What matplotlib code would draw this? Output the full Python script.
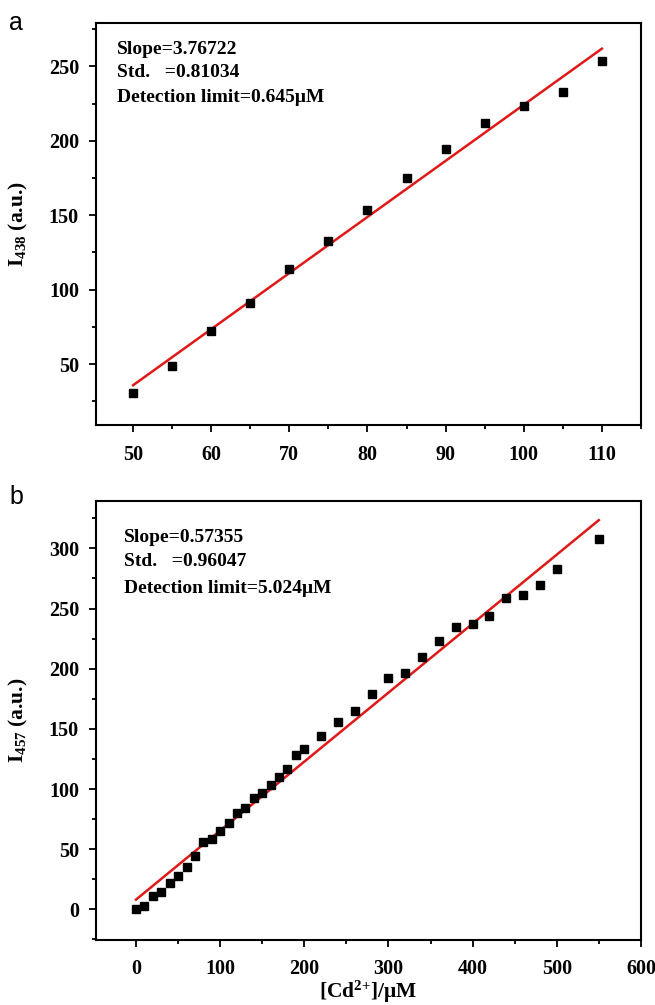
import matplotlib
matplotlib.use("Agg")
import matplotlib.pyplot as plt
from matplotlib.ticker import MultipleLocator
import numpy as np

plt.rcParams["font.family"] = ["Liberation Serif", "DejaVu Serif"]
plt.rcParams["font.weight"] = "bold"
plt.rcParams["mathtext.fontset"] = "custom"
plt.rcParams["mathtext.rm"] = "Liberation Serif:bold"
plt.rcParams["mathtext.bf"] = "Liberation Serif:bold"
plt.rcParams["mathtext.it"] = "Liberation Serif:bold:italic"

# panel a: emission at 438 nm, 50-110 uM Cd2+
conc_a = [50, 55, 60, 65, 70, 75, 80, 85, 90, 95, 100, 105, 110]
int_a = [30.7, 48.9, 72.4, 91.2, 114.1, 132.6, 153.2, 175.0, 194.7, 211.9,
         223.3, 232.8, 253.8]
slope_a = 3.76722
notes_a = ["Slope=3.76722", "Std.   =0.81034", "Detection limit=0.645\u03bcM"]

# panel b: emission at 457 nm, 0-550 uM Cd2+
conc_b = [0, 10, 20, 30, 40, 50, 60, 70, 80, 90, 100, 110, 120, 130, 140,
          150, 160, 170, 180, 190, 200, 220, 240, 260, 280, 300, 320, 340,
          360, 380, 400, 420, 440, 460, 480, 500, 550]
int_b = [0.0, 2.8, 11.1, 14.7, 21.6, 27.7, 35.5, 44.3, 56.2, 58.7, 65.1,
         72.0, 79.8, 83.9, 92.2, 97.0, 103.3, 110.2, 116.9, 128.3, 133.5,
         144.0, 155.4, 165.1, 178.9, 192.2, 196.1, 209.4, 223.3, 234.6,
         237.1, 243.8, 259.0, 261.5, 269.3, 283.1, 308.0]
slope_b = 0.57355
notes_b = ["Slope=0.57355", "Std.   =0.96047", "Detection limit=5.024\u03bcM"]


def fit_line(x, y, slope):
    x = np.asarray(x, float)
    y = np.asarray(y, float)
    icpt = y.mean() - slope * x.mean()
    xs = np.array([x.min(), x.max()])
    return xs, slope * xs + icpt


def style_axes(ax, xmajor, xminor, ymajor, yminor):
    for s in ax.spines.values():
        s.set_linewidth(1.5)
    ax.xaxis.set_major_locator(MultipleLocator(xmajor))
    ax.xaxis.set_minor_locator(MultipleLocator(xminor))
    ax.yaxis.set_major_locator(MultipleLocator(ymajor))
    ax.yaxis.set_minor_locator(MultipleLocator(yminor))
    ax.tick_params(which="both", direction="out", top=False, right=False,
                   width=1.3, labelsize=14.5)
    ax.tick_params(which="major", length=5)
    ax.tick_params(which="minor", length=3)
    ax.tick_params(axis="x", which="major", pad=9)
    ax.tick_params(axis="y", which="major", pad=7)


def draw_panel(ax, x, y, slope, notes, tx, ys):
    xs, yl = fit_line(x, y, slope)
    ax.plot(xs, yl, color="#e01818", lw=1.8, zorder=2)
    ax.plot(x, y, "s", color="black", ms=6, zorder=3)
    for t, yy in zip(notes, ys):
        ax.text(tx, yy, t, transform=ax.transAxes, fontsize=14,
                fontweight="bold", va="center", ha="left")


fig = plt.figure(figsize=(6.55, 10.05), dpi=100)
ax_a = fig.add_axes([0.146, 0.577, 0.8325, 0.40])
ax_b = fig.add_axes([0.146, 0.0647, 0.8325, 0.437])

draw_panel(ax_a, conc_a, int_a, slope_a, notes_a, 0.039, [0.934, 0.876, 0.814])
ax_a.set_xlim(45.2, 115)
ax_a.set_ylim(9, 279)
style_axes(ax_a, 10, 5, 50, 25)
ax_a.set_ylabel(r"I$_{\mathrm{438}}$ (a.u.)", fontsize=15.5, fontweight="bold",
                va="center")
ax_a.yaxis.set_label_coords(-0.141, 0.5)

draw_panel(ax_b, conc_b, int_b, slope_b, notes_b, 0.052, [0.917, 0.861, 0.800])
ax_b.set_xlim(-48, 600)
ax_b.set_ylim(-25.5, 339.6)
style_axes(ax_b, 100, 50, 50, 25)
ax_b.set_ylabel(r"I$_{\mathrm{457}}$ (a.u.)", fontsize=15.5, fontweight="bold",
                va="center")
ax_b.yaxis.set_label_coords(-0.141, 0.5)
ax_b.set_xlabel("[Cd$^{2{+}}$]/\u03bcM", fontsize=15.5, fontweight="bold",
                va="center")
ax_b.xaxis.set_label_coords(0.5, -0.118)

fig.text(0.014, 0.977, "a", family="Liberation Sans", fontweight="normal",
         fontsize=18, va="center", ha="left")
fig.text(0.014, 0.505, "b", family="Liberation Sans", fontweight="normal",
         fontsize=18, va="center", ha="left")

fig.savefig("out.png", dpi=100)
